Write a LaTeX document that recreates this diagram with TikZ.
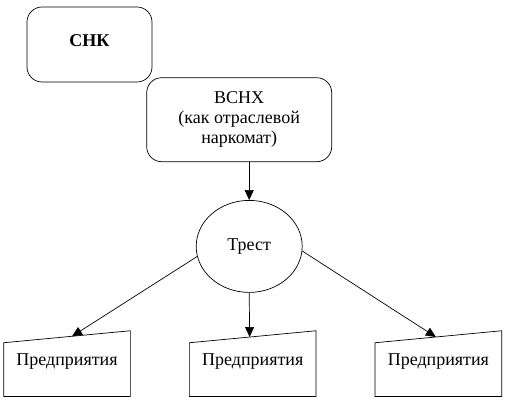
\documentclass[tikz,border=0pt]{standalone}
\usepackage{fontspec}
\setmainfont{Liberation Serif}
\usetikzlibrary{arrows.meta,positioning,calc,shapes.geometric}

\begin{document}
\begin{tikzpicture}[>={Triangle[length=10pt,width=9pt]},line width=0.7pt,
        font=\fontsize{18}{20}\selectfont,
        organ/.style={draw,rounded corners=15pt,align=center},
        firm/.style={minimum width=126pt,minimum height=65pt,inner sep=0pt,
                     text height=12pt,text depth=9pt}]

                \useasboundingbox (0,0) rectangle (511pt,-403pt);

                \node[organ,minimum width=125pt,minimum height=75pt,
                      text height=12pt,text depth=7pt] (snk) at (89.5pt,-44.5pt) {\textbf{СНК}};

                \node[organ,minimum width=185pt,minimum height=84pt,anchor=north west]
                      (vsnh) [below right=-5pt and -6pt of snk] {ВСНХ\\(как отраслевой\\наркомат)};

                \node[draw,ellipse,minimum width=106pt,minimum height=92pt,inner sep=0pt]
                      (trest) [below=38pt of vsnh,xshift=10pt] {Трест};

                \node[firm] (p2) [below=38pt of trest,xshift=3.5pt] {Предприятия};

                \node[firm] (p1) [left=59pt of p2] {Предприятия};

                \node[firm] (p3) [right=59pt of p2] {Предприятия};

                % slanted tops of the enterprise boxes
                \foreach \p in {p1,p2,p3}
                    \draw (\p.south west) -- (\p.south east) -- (\p.north east)
                          -- ([yshift=-12pt]\p.north west) -- cycle;

                \coordinate (p1in) at ($([yshift=-12pt]p1.north west)!0.54!(p1.north east)$);
                \coordinate (p2in) at ($([yshift=-12pt]p2.north west)!0.476!(p2.north east)$);
                \coordinate (p3in) at ($([yshift=-12pt]p3.north west)!0.48!(p3.north east)$);

                \draw[->] (vsnh.south -| trest.north) -- (trest.north);
                \draw[->] (trest.191) -- (p1in);
                \draw[->] (trest.south) -- (p2in);
                \draw[->] (trest.-5) -- (p3in);

            \end{tikzpicture}
\end{document}
